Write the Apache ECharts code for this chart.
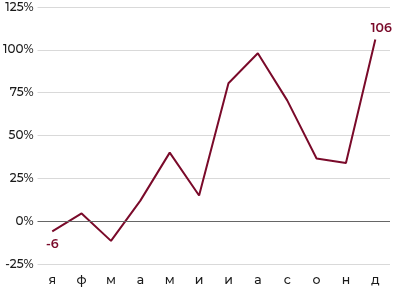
<!DOCTYPE html>
<html><head><meta charset="utf-8">
<script src="https://cdn.jsdelivr.net/npm/echarts@6/dist/echarts.min.js"></script>
<style>html,body{margin:0;padding:0;background:#fff}#c{width:393px;height:290px}</style>
</head><body><div id="c"></div>
<script>
const categories = ['я','ф','м','а','м','и','и','а','с','о','н','д'];
const values = [-6, 4.5, -11.5, 12, 40, 15, 80.5, 98, 70.5, 36.6, 34, 106];
const yTicks = [-25, 0, 25, 50, 75, 100, 125];
const labelIdx = [0, 11];
const labelText = ['-6', '106'];

const chart = echarts.init(document.getElementById('c'));
const font = 'Montserrat, Inter, "Noto Sans", sans-serif';
chart.setOption({
  animation: false,
  grid: {left: 33, right: 3, top: 7, bottom: 26, containLabel: false},
  xAxis: {
    type: 'category', data: categories, boundaryGap: true,
    axisLine: {show: false}, axisTick: {show: false},
    axisLabel: {color: '#1a1a1a', fontSize: 12.5, fontWeight: 500, fontFamily: font, margin: 10}
  },
  yAxis: {
    type: 'value', min: yTicks[0], max: yTicks[yTicks.length-1], interval: 25,
    axisLine: {show: false}, axisTick: {show: false},
    splitLine: {lineStyle: {color: '#d9d9d9', width: 1}},
    axisLabel: {color: '#1a1a1a', fontSize: 12, fontWeight: 500, fontFamily: font, margin: 4, formatter: v => v + '%'}
  },
  series: [{
    type: 'line', data: values,
    symbol: 'none',
    lineStyle: {color: '#7a0a2a', width: 2},
    markLine: {silent: true, symbol: 'none', label: {show: false},
      lineStyle: {color: '#666', type: 'solid', width: 1.2}, data: [{yAxis: 0}]},
    markPoint: {
      silent: true, symbol: 'circle', symbolSize: 1,
      itemStyle: {color: 'rgba(0,0,0,0)'},
      label: {color: '#7a0a2a', fontWeight: 600, fontSize: 12.5, fontFamily: font, distance: 6},
      data: labelIdx.map((idx, k) => ({
        coord: [idx, values[idx]],
        label: {formatter: labelText[k], position: idx === 0 ? 'bottom' : 'top',
                offset: idx === 0 ? [0, 0] : [6, 2]}
      }))
    }
  }]
});
</script></body></html>
